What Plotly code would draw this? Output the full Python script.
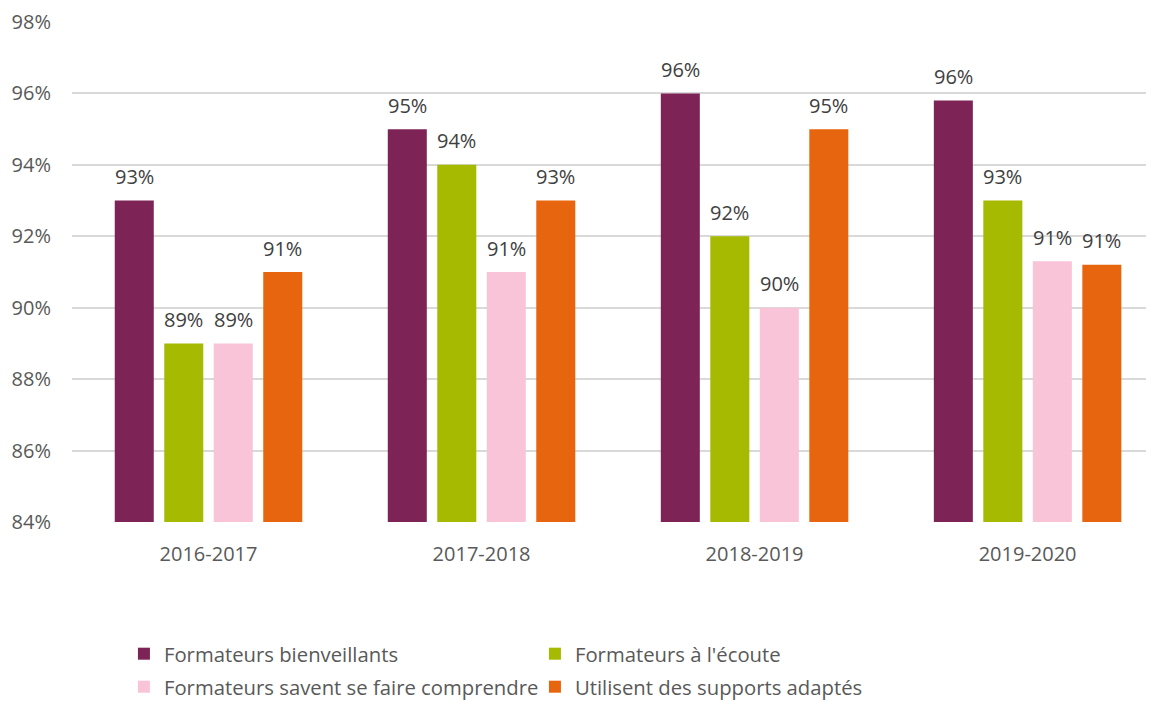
import plotly.graph_objects as go

categories = ["2016-2017", "2017-2018", "2018-2019", "2019-2020"]
series_names = [
    "Formateurs bienveillants",
    "Formateurs à l'écoute",
    "Formateurs savent se faire comprendre",
    "Utilisent des supports adaptés",
]
bienveillants = [93, 95, 96, 95.8]
ecoute = [89, 94, 92, 93]
comprendre = [89, 91, 90, 91.3]
supports = [91, 93, 95, 91.2]
colors = ["#7E2356", "#A5BA00", "#F9C3D8", "#E8650F"]
y_ticks = [84, 86, 88, 90, 92, 94, 96, 98]

FONT = "Open Sans"
SLOT = 0.1813
BAR_W = 0.1429

fig = go.Figure()
annotations = []
all_series = [bienveillants, ecoute, comprendre, supports]
for i, (name, vals, col) in enumerate(zip(series_names, all_series, colors)):
    center_off = (i - 1.5) * SLOT
    fig.add_trace(go.Bar(
        x=categories, y=vals, name=name,
        marker=dict(color=col, line=dict(width=0)),
        width=BAR_W, offset=center_off - BAR_W / 2,
        legend="legend" if i < 2 else "legend2",
        hoverinfo="skip",
    ))
    for k, v in enumerate(vals):
        annotations.append(dict(
            x=k + center_off, y=v, xref="x", yref="y",
            text=f"{v:.0f}%", showarrow=False,
            yanchor="middle", yshift=24,
            font=dict(family=FONT, size=20, color="#404040"),
        ))

legend_common = dict(
    orientation="h", xanchor="left", yanchor="middle",
    entrywidth=366, entrywidthmode="pixels",
    font=dict(family=FONT, size=20.3, color="#595959"),
    bgcolor="rgba(0,0,0,0)",
)

fig.update_layout(
    width=1146, height=693,
    margin=dict(l=64, r=0, t=14, b=179, autoexpand=False),
    paper_bgcolor="white", plot_bgcolor="white",
    barmode="overlay",
    font=dict(family=FONT, color="#595959", size=20),
    showlegend=True,
    legend=dict(x=0.048, y=-0.264, **legend_common),
    legend2=dict(x=0.048, y=-0.33, **legend_common),
    annotations=annotations,
    yaxis=dict(
        range=[84, 98], tickvals=y_ticks, ticktext=[f"{v}%" for v in y_ticks],
        showgrid=True, gridcolor="#D9D9D9", gridwidth=1.5,
        zeroline=False, showline=False,
        tickfont=dict(family=FONT, size=20, color="#595959"),
        ticks="outside", ticklen=16, tickcolor="rgba(0,0,0,0)",
    ),
    xaxis=dict(
        range=[-0.5, 3.463], showgrid=False, showline=False,
        tickfont=dict(family=FONT, size=20, color="#595959"),
        ticks="outside", ticklen=14, tickcolor="rgba(0,0,0,0)",
    ),
)

fig.write_html("out.html")
